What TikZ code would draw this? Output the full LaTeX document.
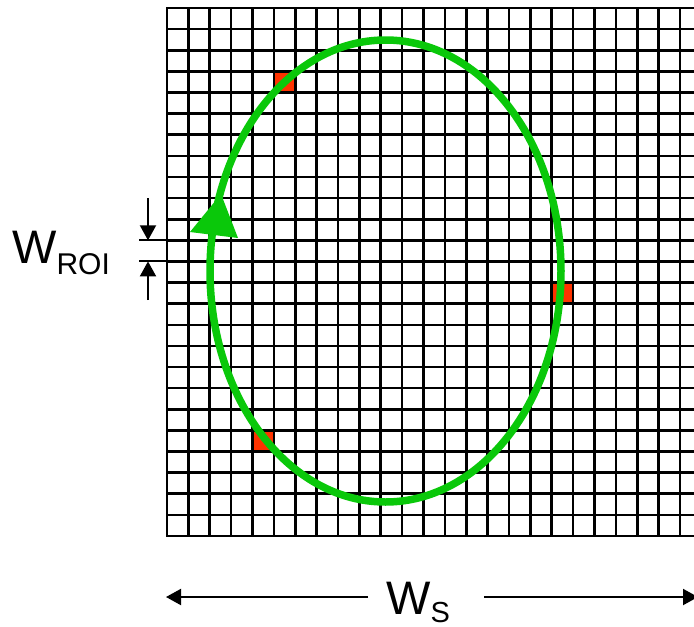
\documentclass[tikz,border=0pt]{standalone}
\usepackage{fontspec}
\setmainfont{Liberation Sans}
\usetikzlibrary{arrows.meta, calc}
\definecolor{ringgreen}{RGB}{10,200,10}
\definecolor{hotred}{RGB}{255,51,0}

\begin{document}
\begin{tikzpicture}[x=1pt, y=-1pt,
    gridline/.style={black, line width=2.6pt, line cap=rect},
    dimline/.style={black, line width=2pt, -{Triangle[width=16pt,length=15pt]}},
    ringline/.style={ringgreen, line width=7.5pt}]
  \useasboundingbox (0,0) rectangle (694,627);
  % hot cells
  \foreach \c/\r in {5/3, 4/20, 18/13}
    \fill[hotred] (167+21.375*\c, 8+21.12*\r) rectangle ++(21.375, 21.12);
  % grid
  \foreach \k in {0,...,24}
    \draw[gridline] (167+21.375*\k, 8) -- (167+21.375*\k, 536);
  \foreach \j in {0,...,25}
    \draw[gridline] (167, 8+21.12*\j) -- (700, 8+21.12*\j);
  % scan ring
  \draw[ringline] (385.5,271) ellipse [x radius=175.5, y radius=231];
  \fill[ringgreen] (221,194) -- (190,232) -- (238,238) -- cycle;
  % W_ROI dimension
  \coordinate (roiT) at (148,198);
  \coordinate (roiA) at (148,240.3);
  \coordinate (roiB) at (148,261.4);
  \coordinate (roiD) at (148,300);
  \draw[black, line width=2pt] (139,240.3) -- (167,240.3);
  \draw[black, line width=2pt] (139,261.4) -- (167,261.4);
  \draw[dimline] (roiT) -- (roiA);
  \draw[dimline] (roiD) -- (roiB);
  \node[anchor=base west, inner sep=0] (roi) at (12,263)
    {\fontsize{47}{47}\selectfont W\raisebox{-11pt}{\fontsize{30}{30}\selectfont ROI}};
  % W_S dimension
  \node[anchor=base west, inner sep=0] (ws) at (386,614)
    {\fontsize{47}{47}\selectfont W\raisebox{-8pt}{\fontsize{29}{29}\selectfont S}};
  \coordinate (wsL) at (368,597);
  \coordinate (wsLtip) at (166,597);
  \coordinate (wsR) at (484,597);
  \coordinate (wsRtip) at (698,597);
  \draw[dimline] (wsL) -- (wsLtip);
  \draw[dimline] (wsR) -- (wsRtip);
\end{tikzpicture}
\end{document}
